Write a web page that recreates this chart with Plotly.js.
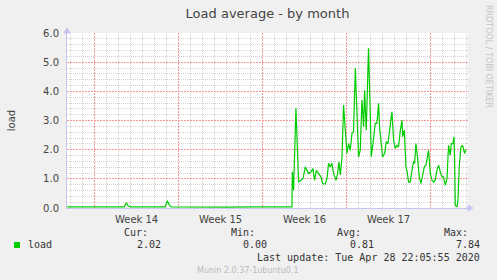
<!DOCTYPE html>
<html>
<head>
<meta charset="utf-8">
<script src="https://cdn.plot.ly/plotly-3.0.1.min.js"></script>
<style>html,body{margin:0;padding:0;background:#f0f0f0;}#chart{width:497px;height:280px;}</style>
</head>
<body>
<div id="chart"></div>
<script>
// days since Mon Mar 30 2020 (start of week 14)
const days = [-2.28,-1.19,0.48,2.14,2.48,2.64,2.81,2.98,4.64,5.89,6.06,6.23,6.39,7.98,9.64,11.31,12.98,14.64,16.31,
 16.45,16.48,16.58,16.78,17.00,17.20,17.37,17.56,17.70,17.83,18.03,18.20,18.33,18.48,18.67,18.87,19.00,19.23,19.37,
 19.50,19.64,19.78,19.92,20.12,20.25,20.37,20.48,20.62,20.75,20.89,21.03,21.17,21.31,21.45,21.58,21.73,21.87,22.00,
 22.14,22.28,22.42,22.50,22.64,22.83,22.98,23.06,23.20,23.39,23.53,23.67,23.75,23.89,24.00,24.17,24.31,24.45,24.64,
 24.78,24.92,25.06,25.20,25.33,25.48,25.62,25.67,25.81,25.95,26.03,26.17,26.31,26.45,26.58,26.67,26.78,26.92,27.06,
 27.20,27.33,27.48,27.62,27.75,27.83,27.98,28.12,28.25,28.39,28.53,28.67,28.81,28.95,29.08,29.23,29.37,29.50,29.64,
 29.73,29.87,29.95,30.00,30.06,30.20,30.28,30.39,30.53,30.67,30.75,30.83,30.95];
const load = [0.04,0.04,0.03,0.04,0.04,0.18,0.07,0.04,0.04,0.04,0.25,0.10,0.04,0.03,0.04,0.03,0.04,0.03,0.03,
 0.04,1.24,0.61,3.42,0.89,0.95,1.01,1.41,1.29,1.18,1.24,1.35,0.95,1.29,1.18,1.07,0.84,0.82,1.01,
 1.53,1.41,1.53,1.18,0.95,1.18,1.58,1.13,1.75,3.53,2.78,1.87,2.21,1.98,2.56,2.61,4.79,2.78,1.75,
 1.98,3.70,2.78,4.04,2.67,5.48,3.13,1.75,2.21,2.90,2.90,3.59,2.78,2.21,1.75,1.87,2.27,2.21,2.78,
 3.30,2.32,2.04,2.15,2.09,2.67,3.01,2.44,2.67,1.41,1.29,0.89,0.89,1.29,1.58,1.53,2.21,1.70,1.07,
 0.84,1.18,1.41,1.47,1.75,1.98,1.18,0.95,0.89,0.95,1.29,1.47,1.24,1.07,1.07,0.78,1.01,2.15,1.81,
 2.21,2.21,2.44,1.75,0.09,0.04,0.26,1.41,2.09,2.15,1.92,1.87,2.01];
const weekStarts = [0,7,14,21,28];
const weekMids = [3.5,10.5,17.5,24.5];
const weekLabels = ['Week 14','Week 15','Week 16','Week 17'];
const yTicks = [0,1,2,3,4,5,6];
const legendName = 'load';
const statLabels = ['Cur:','Min:','Avg:','Max:'];
const statValues = ['2.02','0.00','0.81','7.84'];
const lastUpdate = 'Last update: Tue Apr 28 22:05:55 2020';

const L = 67, T = 33, W = 401, H = 175;
const xRange = [-2.3, 31.12];
const yRange = [0, 6];
const mono = 'DejaVu Sans Mono, monospace';
const sans = 'DejaVu Sans, sans-serif';
const txt = '#333';

// minor grid positions (daily / every 0.2), skipping the major ones
const dayGrid = [];
for (let d = Math.ceil(xRange[0]); d <= xRange[1]; d++) { if (d % 7 !== 0) dayGrid.push(d); }
const yMinor = [];
for (let i = 1; i < yRange[1] * 5; i++) { if (i % 5 !== 0) yMinor.push(i / 5); }

function ann(text, px, py, anchor, opts) {
  return Object.assign({text: text, xref: 'paper', yref: 'paper', x: 0, y: 0,
    xshift: px - L, yshift: (T + H) - py, xanchor: anchor, yanchor: 'middle',
    showarrow: false, font: {family: mono, size: 10, color: txt}}, opts || {});
}

const statRight = [[150,163],[257,269],[363,376],[470,482]];
const annotations = [
  ann(legendName, 26, 244, 'left'),
  ann(lastUpdate, 482, 257, 'right'),
  ann('Munin 2.0.37-1ubuntu0.1', 248, 270, 'center', {font: {family: sans, size: 8, color: '#bbbbbb'}}),
  ann('RRDTOOL / TOBI OETIKER', 489, 56, 'center', {textangle: 90, font: {family: sans, size: 8, color: '#c4c4c4'}})
];
statLabels.forEach((s, i) => {
  annotations.push(ann(s, statRight[i][0], 232, 'right'));
  annotations.push(ann(statValues[i], statRight[i][1], 244, 'right'));
});

const lav = '#c6c6f4';
const red = '#f29a9a';
const gray = '#d2d2d2';

const shapes = [
  {type: 'rect', xref: 'paper', yref: 'paper', x0: (14 - L) / W, x1: (20 - L) / W,
   y0: (T + H - 248) / H, y1: (T + H - 242) / H, fillcolor: '#00cc00', line: {width: 0}},
  {type: 'path', xref: 'paper', yref: 'paper',
   path: 'M 1,0.0171 L 1.0125,0 L 1,-0.0171 Z', fillcolor: lav, line: {color: lav, width: 1}},
  {type: 'path', xref: 'paper', yref: 'paper',
   path: 'M -0.0075,1 L 0,1.0286 L 0.0075,1 Z', fillcolor: lav, line: {color: lav, width: 1}}
];

const data = [
  {x: days, y: load, type: 'scatter', mode: 'lines', name: legendName,
   line: {color: '#00cc00', width: 1.2}, hoverinfo: 'skip'},
  {x: [], y: [], xaxis: 'x2', yaxis: 'y', type: 'scatter', showlegend: false, hoverinfo: 'skip'}
];

const layout = {
  width: 497, height: 280,
  margin: {l: L, r: 497 - L - W, t: T, b: 280 - T - H, pad: 0},
  paper_bgcolor: '#f0f0f0', plot_bgcolor: '#ffffff',
  showlegend: false,
  title: {text: 'Load average - by month', x: 0.5, xref: 'paper', xanchor: 'center', y: 1 - 13 / 280, yanchor: 'middle',
          font: {family: sans, size: 13, color: '#444'}},
  xaxis: {range: xRange, tickmode: 'array', tickvals: weekStarts, showticklabels: false, ticks: '',
          showgrid: true, gridcolor: red, griddash: '2px,1px', gridwidth: 1,
          zeroline: false, showline: true, linecolor: lav, linewidth: 1,
          minor: {tickmode: 'array', tickvals: dayGrid, showgrid: true, gridcolor: gray, griddash: '1px,1px', gridwidth: 1, ticks: ''}},
  xaxis2: {range: xRange, overlaying: 'x', anchor: 'y', side: 'bottom', tickmode: 'array',
           tickvals: weekMids, ticktext: weekLabels, showgrid: false, zeroline: false, showline: false,
           ticks: 'outside', ticklen: 2, tickcolor: 'rgba(0,0,0,0)',
           tickfont: {family: sans, size: 10, color: '#444'}},
  yaxis: {range: yRange, tickmode: 'array', tickvals: yTicks, tickformat: '.1f',
          showgrid: true, gridcolor: red, griddash: '2px,1px', gridwidth: 1,
          zeroline: false, showline: true, linecolor: lav, linewidth: 1,
          ticks: 'outside', ticklen: 5, tickcolor: 'rgba(0,0,0,0)',
          tickfont: {family: sans, size: 10, color: '#444'},
          title: {text: 'load', standoff: 25, font: {family: sans, size: 10, color: '#444'}},
          minor: {tickmode: 'array', tickvals: yMinor, showgrid: true, gridcolor: gray, griddash: '1px,1px', gridwidth: 1, ticks: ''}},
  annotations: annotations,
  shapes: shapes
};

Plotly.newPlot('chart', data, layout, {staticPlot: true, displayModeBar: false});
</script>
</body>
</html>
